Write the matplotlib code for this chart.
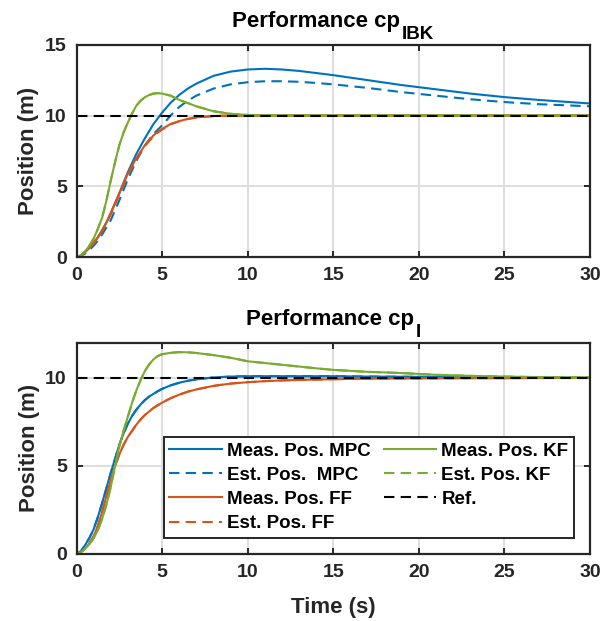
import matplotlib
matplotlib.use("Agg")
import matplotlib.pyplot as plt

plt.rcParams["font.family"] = ["Liberation Sans", "DejaVu Sans"]
plt.rcParams["font.weight"] = "bold"

# time samples (s)
t = [0, 0.25, 0.5, 0.75, 1, 1.25, 1.5, 1.75, 2, 2.25, 2.5, 2.75, 3, 3.25, 3.5,
     3.75, 4, 4.25, 4.5, 4.75, 5, 5.5, 6, 6.5, 7, 8, 9, 10, 11, 12, 13, 14, 15,
     17, 19, 21, 23, 25, 27, 30]

# cp_IBK case
mpc_meas_ibk = [0, 0.1, 0.35, 0.65, 1.0, 1.4, 1.9, 2.45, 3.1, 3.8, 4.5, 5.25, 6.0,
                6.65, 7.3, 7.85, 8.4, 8.9, 9.4, 9.8, 10.2, 10.9, 11.45, 11.9, 12.25,
                12.8, 13.1, 13.25, 13.3, 13.25, 13.15, 13.0, 12.85, 12.5, 12.15,
                11.85, 11.55, 11.3, 11.1, 10.85]
mpc_est_ibk = [0, 0.08, 0.25, 0.5, 0.8, 1.15, 1.6, 2.1, 2.6, 3.3, 4.0, 4.75, 5.5,
               6.15, 6.8, 7.35, 7.9, 8.3, 8.7, 9.0, 9.3, 10.0, 10.6, 11.05, 11.4,
               11.9, 12.2, 12.35, 12.42, 12.42, 12.38, 12.3, 12.2, 11.95, 11.65,
               11.4, 11.15, 10.95, 10.8, 10.65]
ff_meas_ibk = [0, 0.1, 0.35, 0.65, 1.0, 1.4, 1.9, 2.45, 3.1, 3.8, 4.5, 5.2, 5.9,
               6.45, 7.0, 7.45, 7.9, 8.25, 8.6, 8.85, 9.05, 9.4, 9.6, 9.76, 9.87,
               9.96, 10.0, 10.0, 10.0, 10.0, 10.0, 10.0, 10.0, 10.0, 10.0,
               10.0, 10.0, 10.0, 10.0, 10.0]
ff_est_ibk = [0, 0.08, 0.3, 0.6, 0.95, 1.35, 1.85, 2.4, 3.0, 3.7, 4.4, 5.1, 5.8,
              6.35, 6.9, 7.4, 7.85, 8.2, 8.55, 8.8, 9.0, 9.38, 9.6, 9.75, 9.86,
              9.96, 10.0, 10.0, 10.0, 10.0, 10.0, 10.0, 10.0, 10.0, 10.0,
              10.0, 10.0, 10.0, 10.0, 10.0]
kf_meas_ibk = [0, 0.12, 0.4, 0.8, 1.3, 2.0, 2.8, 4.0, 5.4, 6.7, 7.9, 8.8, 9.5,
               10.15, 10.7, 11.05, 11.3, 11.45, 11.55, 11.58, 11.55, 11.4, 11.1,
               10.88, 10.65, 10.3, 10.12, 10.04, 10.01, 10.0, 10.0, 10.0, 10.0,
               10.0, 10.0, 10.0, 10.0, 10.0, 10.0, 10.0]
kf_est_ibk = kf_meas_ibk

# cp_I case
mpc_meas_i = [0, 0.15, 0.5, 0.9, 1.4, 2.1, 2.9, 3.75, 4.6, 5.4, 6.2, 6.85, 7.4,
              7.85, 8.2, 8.5, 8.75, 8.95, 9.1, 9.25, 9.38, 9.58, 9.73, 9.84, 9.92,
              10.03, 10.08, 10.1, 10.1, 10.1, 10.1, 10.1, 10.1, 10.08, 10.07,
              10.06, 10.04, 10.03, 10.02, 10.01]
mpc_est_i = mpc_meas_i
ff_meas_i = [0, 0.1, 0.3, 0.6, 1.0, 1.6, 2.4, 3.3, 4.2, 5.0, 5.65, 6.2, 6.65,
             7.0, 7.35, 7.65, 7.9, 8.1, 8.3, 8.45, 8.6, 8.85, 9.05, 9.22, 9.35,
             9.55, 9.68, 9.76, 9.82, 9.86, 9.89, 9.91, 9.93, 9.96, 9.97,
             9.98, 9.99, 9.99, 10.0, 10.0]
ff_est_i = ff_meas_i
kf_meas_i = [0, 0.1, 0.3, 0.55, 0.9, 1.35, 2.0, 2.8, 3.8, 5.0, 6.1, 7.0, 7.8,
             8.6, 9.3, 9.9, 10.4, 10.78, 11.06, 11.25, 11.35, 11.43, 11.47, 11.46,
             11.42, 11.3, 11.15, 10.95, 10.85, 10.75, 10.65, 10.55, 10.46, 10.35,
             10.28, 10.18, 10.12, 10.08, 10.05, 10.03]
kf_est_i = kf_meas_i

ref_t = [0, 30]
ref = [10, 10]

blue = "#0072BD"
red = "#D95319"
green = "#77AC30"
dark = "#262626"
lw = 1.5
dash = (0, (5, 3))

fig = plt.figure(figsize=(6.12, 6.21), dpi=100)
ax1 = fig.add_axes([0.125, 0.586, 0.839, 0.342])
ax2 = fig.add_axes([0.125, 0.108, 0.839, 0.340])


def style(ax, ylim, yticks):
    ax.set_xlim(0, 30)
    ax.set_ylim(*ylim)
    ax.set_xticks([0, 5, 10, 15, 20, 25, 30])
    ax.set_yticks(yticks)
    ax.grid(True, color="#dedede", linewidth=1.4)
    ax.set_axisbelow(True)
    ax.tick_params(direction="in", length=4, width=1.4, top=True, right=True,
                   labelsize=14, colors=dark, pad=7)
    for lab in ax.get_xticklabels() + ax.get_yticklabels():
        lab.set_fontweight("bold")
    for sp in ax.spines.values():
        sp.set_color(dark)
        sp.set_linewidth(1.6)
    ax.set_ylabel("Position (m)", fontsize=16, fontweight="bold", color=dark,
                  labelpad=4)


def draw(ax, mm, me, fm, fe, km, ke):
    ax.plot(t, mm, color=blue, lw=lw, label="Meas. Pos. MPC")
    ax.plot(t, me, color=blue, lw=lw, ls=dash, label="Est. Pos.  MPC")
    ax.plot(t, fm, color=red, lw=lw, label="Meas. Pos. FF")
    ax.plot(t, fe, color=red, lw=lw, ls=dash, label="Est. Pos. FF")
    ax.plot(t, km, color=green, lw=lw, label="Meas. Pos. KF")
    ax.plot(t, ke, color=green, lw=lw, ls=dash, label="Est. Pos. KF")
    ax.plot(ref_t, ref, color="black", lw=lw, ls=dash, label="Ref.")


def sub_title(ax, main, sub):
    # title with a full-size subscript, centred over the axes
    W, H = fig.bbox.width, fig.bbox.height
    r = fig.canvas.get_renderer()
    tm = fig.text(0, 0, main, fontsize=16, fontweight="bold", color="black",
                  ha="left", va="baseline")
    ts = fig.text(0, 0, sub, fontsize=13.5, fontweight="bold", color="black",
                  ha="left", va="baseline")
    wm = tm.get_window_extent(r).width
    ws = ts.get_window_extent(r).width
    pos = ax.get_position()
    cx = (pos.x0 + pos.x1) / 2 * W
    base = pos.y1 * H + 17.5
    x0 = cx - (wm + 2 + ws) / 2
    tm.set_position((x0 / W, base / H))
    ts.set_position(((x0 + wm + 2) / W, (base - 12) / H))


draw(ax1, mpc_meas_ibk, mpc_est_ibk, ff_meas_ibk, ff_est_ibk, kf_meas_ibk, kf_est_ibk)
style(ax1, (0, 15), [0, 5, 10, 15])
sub_title(ax1, "Performance cp", "IBK")

draw(ax2, mpc_meas_i, mpc_est_i, ff_meas_i, ff_est_i, kf_meas_i, kf_est_i)
style(ax2, (0, 12), [0, 5, 10])
sub_title(ax2, "Performance cp", "I")
ax2.set_xlabel("Time (s)", fontsize=16, fontweight="bold", color=dark, labelpad=12)

leg = ax2.legend(loc="upper left", bbox_to_anchor=(0.170, 0.5545),
                 bbox_transform=ax2.transAxes, ncol=2, fontsize=13.5,
                 frameon=True, fancybox=False, handlelength=2.8,
                 handletextpad=0.27, columnspacing=0.7, labelspacing=0.375,
                 borderpad=0.3, borderaxespad=0)
leg.get_frame().set_edgecolor(dark)
leg.get_frame().set_linewidth(1.4)
leg.get_frame().set_alpha(1)
for txt in leg.get_texts():
    txt.set_fontweight("bold")

fig.savefig("out.png", dpi=100)
